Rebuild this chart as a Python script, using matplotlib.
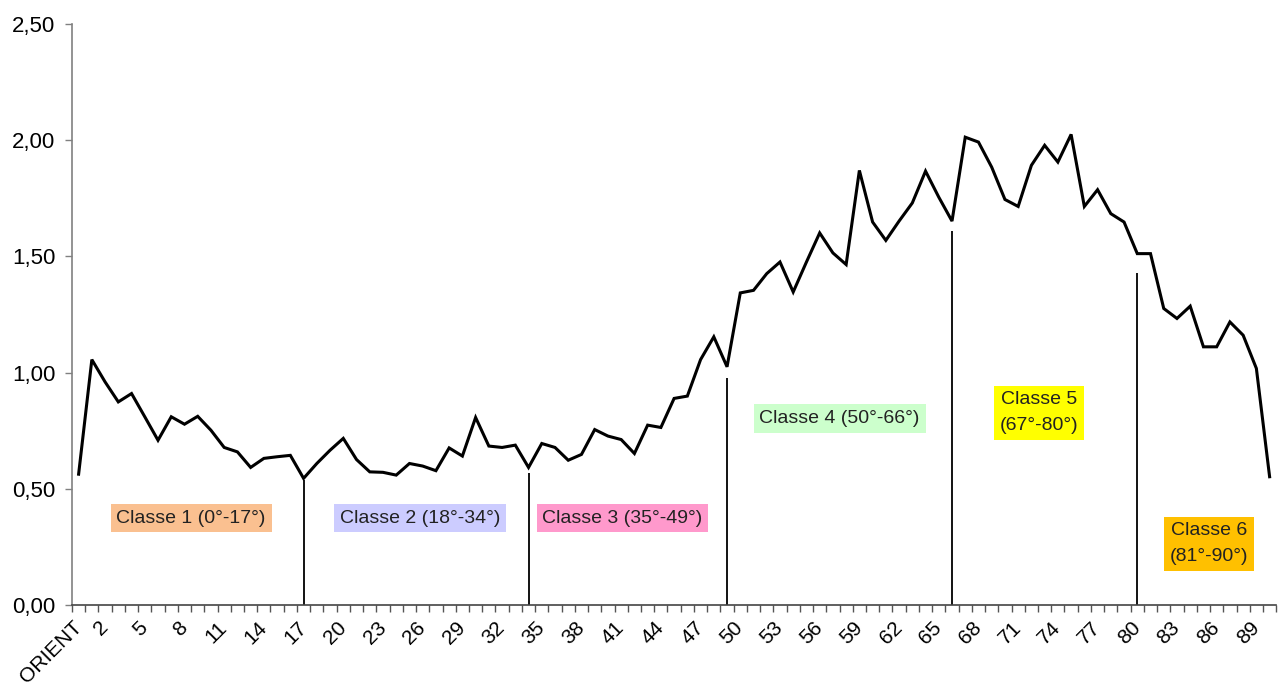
import matplotlib
matplotlib.use('Agg')
import matplotlib.pyplot as plt
from matplotlib.ticker import FixedLocator, FuncFormatter

# categories: ORIENT then 1..90 degrees
categories = ['ORIENT'] + [str(i) for i in range(1, 91)]

values = [
    0.563, 1.056, 0.960, 0.874, 0.910, 0.810, 0.709, 0.810, 0.778, 0.812,
    0.752, 0.678, 0.659, 0.592, 0.631, 0.638, 0.644, 0.545, 0.609, 0.666,
    0.717, 0.626, 0.573, 0.571, 0.559, 0.609, 0.598, 0.578, 0.676, 0.641,
    0.807, 0.684, 0.678, 0.688, 0.592, 0.695, 0.678, 0.623, 0.648, 0.755,
    0.727, 0.712, 0.652, 0.774, 0.764, 0.889, 0.899, 1.056, 1.154, 1.025,
    1.343, 1.354, 1.426, 1.476, 1.347, 1.476, 1.601, 1.515, 1.465, 1.870,
    1.648, 1.569, 1.652, 1.730, 1.867, 1.755, 1.652, 2.013, 1.992, 1.884,
    1.745, 1.715, 1.892, 1.978, 1.906, 2.025, 1.715, 1.787, 1.684, 1.648,
    1.512, 1.512, 1.276, 1.233, 1.286, 1.111, 1.111, 1.218, 1.161, 1.018,
    0.552,
]

# class separators (category index) and how high the lines go
divider_pos = [17, 34, 49, 66, 80]
divider_tops = [0.537, 0.567, 0.979, 1.611, 1.430]

class_labels = ['Classe 1 (0°-17°)', 'Classe 2 (18°-34°)', 'Classe 3 (35°-49°)',
                'Classe 4 (50°-66°)', 'Classe 5\n(67°-80°)', 'Classe 6\n(81°-90°)']
class_colors = ['#FAC090', '#CCCCFF', '#FF99CC', '#CCFFCC', '#FFFF00', '#FFC000']
class_xy = [(8.5, 0.374), (25.8, 0.374), (41.1, 0.374), (57.5, 0.802), (72.6, 0.828), (85.4, 0.264)]

label_idx = [0] + list(range(2, 90, 3))


def main():
    plt.rcParams['font.family'] = ['Liberation Sans', 'DejaVu Sans']

    fig = plt.figure(figsize=(12.8, 6.88), dpi=100)
    ax = fig.add_axes([0.05625, 0.1206, 0.9408, 0.8445])

    x = list(range(len(categories)))
    ax.plot(x, values, color='black', linewidth=2.2, solid_joinstyle='miter')

    for pos, top in zip(divider_pos, divider_tops):
        ax.vlines(pos, 0, top, color='black', linewidth=1.3)

    for txt, col, (tx, ty) in zip(class_labels, class_colors, class_xy):
        ax.text(tx, ty, txt, fontsize=14, color='#222222', ha='center', va='center',
                multialignment='center', linespacing=1.65,
                bbox=dict(boxstyle='square,pad=0.3', facecolor=col, edgecolor='none'))

    ax.set_xlim(-0.5, len(categories) - 0.5)
    ax.set_ylim(0, 2.5)

    ax.xaxis.set_major_locator(FixedLocator(label_idx))
    ax.set_xticklabels([categories[i] for i in label_idx], rotation=45, ha='right',
                       va='center', rotation_mode='anchor', fontsize=15)
    ax.tick_params(axis='x', which='major', length=0, pad=14)
    ax.xaxis.set_minor_locator(FixedLocator([i - 0.5 for i in range(len(categories) + 1)]))
    ax.tick_params(axis='x', which='minor', length=5, width=1, color='#555555')

    ax.set_yticks([0, 0.5, 1.0, 1.5, 2.0, 2.5])
    ax.yaxis.set_major_formatter(FuncFormatter(lambda v, p: f'{v:.2f}'.replace('.', ',')))
    ax.tick_params(axis='y', length=5, width=1, color='#808080', labelsize=16, pad=7)

    ax.spines['top'].set_visible(False)
    ax.spines['right'].set_visible(False)
    ax.spines['left'].set_color('#808080')
    ax.spines['bottom'].set_color('#444444')
    ax.spines['left'].set_linewidth(1.2)
    ax.spines['bottom'].set_linewidth(1.2)

    fig.savefig('out.png', dpi=100)


if (__name__ == '__main__'):
    main()
